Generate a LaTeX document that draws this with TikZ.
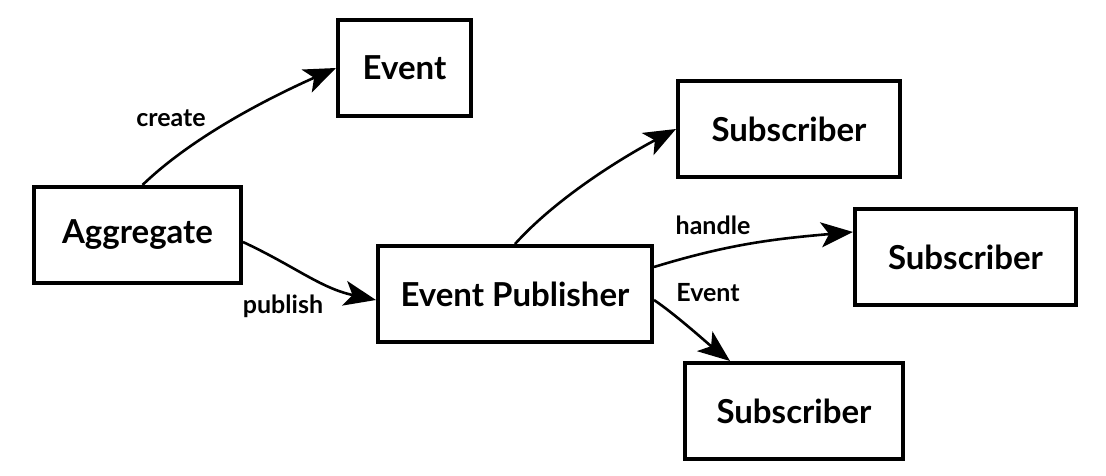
\documentclass[tikz,border=0pt]{standalone}
\usepackage{fontspec}
\setmainfont{Lato}
\usepackage{tikz}
\usetikzlibrary{arrows.meta,positioning,calc}

\tikzset{
    block/.style={draw, line width=4pt, minimum height=96pt, font=\fontsize{33}{36}\selectfont\bfseries},
    lbl/.style={anchor=base, font=\fontsize{25}{28}\selectfont\bfseries},
    link/.style={line width=2.6pt, -{Stealth[length=32pt,width=25pt,inset=8pt]}}
}

\begin{document}
\begin{tikzpicture}[x=1pt, y=1pt]
    \useasboundingbox (0,0) rectangle (1106,476);

    % Boxes
    \node[block, minimum width=207pt] (agg) at (137.5,241) {Aggregate};
    \node[block, minimum width=133pt] (event) at (404.5,408) {Event};
    \node[block, minimum width=274pt] (pub) at (515,182) {Event Publisher};
    \node[block, minimum width=222pt] (sub1) at (789,347) {Subscriber};
    \node[block, minimum width=221pt] (sub2) at (965.5,219) {Subscriber};
    \node[block, minimum width=218pt] (sub3) at (794,65) {Subscriber};

    % Arrows
    \draw[link] ($(agg.north)+(5,0)$) to[out=44, in=204, looseness=0.8] (event.west);
    \draw[link] ($(agg.east)+(0,-7)$) to[out=-25, in=168] ($(pub.west)+(0,-6)$);
    \draw[link] (pub.north) to[out=48, in=208, looseness=0.8] (sub1.west);
    \draw[link] ($(pub.east)+(0,27)$) to[out=17, in=185] ($(sub2.west)+(0,25)$);
    \draw[link] ($(pub.east)+(0,-6)$) to[out=-34, in=142, looseness=0.7] ($(sub3.north)+(-64,0)$);

    % Labels
    \node[lbl] (tcreate) at (171,349) {create};
    \node[lbl] (tpublish) at (283,162) {publish};
    \node[lbl] (thandle) at (713,241) {handle};
    \node[lbl] (tevent) at (708,174) {Event};
\end{tikzpicture}
\end{document}
